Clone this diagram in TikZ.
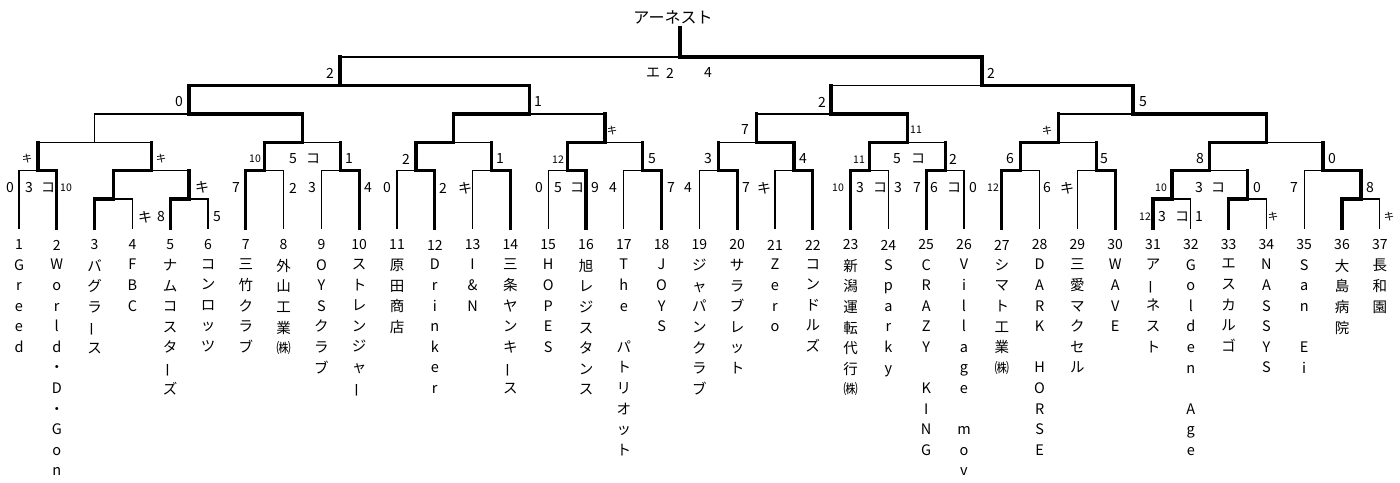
\documentclass[tikz,border=0pt]{standalone}
\usepackage{fontspec}
\usepackage{graphicx}
\newfontfamily\jpfont{Noto Sans CJK JP}
\newcommand{\tbar}{\rotatebox[origin=c]{90}{ー}}
\tikzset{
  won/.style={line width=3.2pt,line cap=rect},
  lost/.style={line width=1.3pt,line cap=rect},
  sc/.style={font=\jpfont\fontsize{14}{14}\selectfont,inner sep=0pt},
  sm/.style={font=\jpfont\fontsize{10.5}{10.5}\selectfont,inner sep=0pt},
  num/.style={font=\jpfont\fontsize{14}{14}\selectfont,inner sep=0pt},
  tm/.style={font=\jpfont\fontsize{14.5}{20.6}\selectfont,inner sep=0pt,
    anchor=north,align=center,execute at begin node={\rule{0pt}{13pt}}}
}
\begin{document}
\begin{tikzpicture}[x=1pt,y=-1pt]
\useasboundingbox (0,0) rectangle (1400,482);
\foreach \i in {1,...,37}
  \coordinate (t\i) at ({19+(\i-1)*37.8},228);
\coordinate (p34) at (113.5,199);
\coordinate (p56) at (189,199);
\coordinate (p3132) at (1172,199);
\coordinate (p3334) at (1247.5,199);
\coordinate (p3637) at (1361,199);
\coordinate (r12) at (37.9,170.7);
\coordinate (r36) at (151.2,170.7);
\coordinate (r78) at (264.7,170.7);
\coordinate (r910) at (340.3,170.7);
\coordinate (r1112) at (415.9,170.7);
\coordinate (r1314) at (491.5,170.7);
\coordinate (r1516) at (567.1,170.7);
\coordinate (r1718) at (642.7,170.7);
\coordinate (r1920) at (718.3,170.7);
\coordinate (r2122) at (793.9,170.7);
\coordinate (r2324) at (869.5,170.7);
\coordinate (r2526) at (945.1,170.7);
\coordinate (r2728) at (1020.7,170.7);
\coordinate (r2930) at (1096.3,170.7);
\coordinate (r3134) at (1209.7,170.7);
\coordinate (r3537) at (1323,170.7);
\coordinate (s16) at (94.5,142.7);
\coordinate (s710) at (302.5,142.7);
\coordinate (s1114) at (453.7,142.7);
\coordinate (s1518) at (604.9,142.7);
\coordinate (s1922) at (756.1,142.7);
\coordinate (s2326) at (907.3,142.7);
\coordinate (s2730) at (1058.5,142.7);
\coordinate (s3137) at (1266.4,142.7);
\coordinate (q110) at (189,114);
\coordinate (q1118) at (529.3,114);
\coordinate (q1926) at (831,114);
\coordinate (q2737) at (1133,114);
\coordinate (h1) at (340,85.7);
\coordinate (h2) at (982,85.7);
\coordinate (f) at (680,57);
\coordinate (top) at (680,28);
\foreach \a/\b in {t3/p34,t5/p56,t31/p3132,t33/p3334,t36/p3637,t2/r12,
  p34/r36,t7/r78,t10/r910,t12/r1112,t14/r1314,t16/r1516,t18/r1718,
  t20/r1920,t22/r2122,t23/r2324,t25/r2526,t27/r2728,t30/r2930,
  p3132/r3134,p3637/r3537,r78/s710,r1112/s1114,r1516/s1518,r2122/s1922,
  r2324/s2326,r2728/s2730,r3134/s3137,s710/q110,s1114/q1118,s2326/q1926,
  s3137/q2737,q110/h1,q1118/h1,q2737/h2,h2/f}
  \draw[won] (\a) |- (\b);
\foreach \a/\b in {t4/p34,t6/p56,t32/p3132,t34/p3334,t37/p3637,t1/r12,
  t8/r78,t9/r910,t11/r1112,t13/r1314,t15/r1516,t17/r1718,t19/r1920,
  t21/r2122,t24/r2324,t26/r2526,t28/r2728,t29/r2930,t35/r3537,s16/q110}
  \draw[lost] (\a) |- (\b);
\foreach \a/\b in {p56/r36,p3334/r3134,r12/s16,r36/s16,r910/s710,
  r1314/s1114,r1718/s1518,r1920/s1922,r2526/s2326,r2930/s2730,r3537/s3137,
  s1518/q1118,s1922/q1926,s2730/q2737,q1926/h2,h1/f}
  {\draw[won] (\a) -- (\a |- \b);
   \draw[lost] (\a |- \b) -- (\b);}
\draw[won] (f) -- (top);
\node[font=\jpfont\fontsize{16}{16}\selectfont,inner sep=0pt] (champ) at (673,17) {アーネスト};
\foreach \x/\y/\lab [count=\j] in {330/73/2,653/73/エ,670/73/2,708/73/4,991/73/2,
  179/102/0,538/102/1,822/102/2,1143/102/5,745/130/7,
  293/159/5,313/159/コ,349/159/1,406/159/2,500/159/1,652/159/5,708/159/3,
  803/159/4,897/159/5,918/159/コ,953/159/2,1010/159/6,1104/159/5,1200/159/8,
  1332/159/0,
  10/188/0,29/188/3,48/188/コ,202/187/キ,236/188/7,293/188/2,312/188/3,
  368/188/4,387/188/0,443/188/2,465/188/キ,539/188/0,558/188/5,577/188/コ,
  595/188/9,613/188/4,671/188/7,688/188/4,746/188/7,764/188/キ,860/188/3,
  880/188/コ,898/188/3,917/188/7,934/188/6,954/188/コ,973/188/0,1047/188/6,
  1067/188/キ,1199/188/3,1218/188/コ,1257/188/0,1294/188/7,1370/188/8,
  145/217/キ,161/217/8,217/217/5,1162/217/3,1182/217/コ,1199/217/1}
  \node[sc] (a\j) at (\x,\y) {\lab};
\foreach \x/\y/\lab [count=\j] in {612/131/キ,916/130/11,1047/131/キ,
  27/159/キ,161/159/キ,255/159/10,558/160/12,859/160/11,
  66/188/10,838/188/10,993/188/12,1161/188/10,
  1145/217/12,1273/217/キ,1389/217/キ}
  \node[sm] (b\j) at (\x,\y) {\lab};
\foreach \nm [count=\i] in {
  {G\\r\\e\\e\\d},
  {W\\o\\r\\l\\d\\・\\D\\・\\G\\o\\n},
  {バ\\グ\\ラ\\\tbar\\ス},
  {F\\B\\C},
  {ナ\\ム\\コ\\ス\\タ\\\tbar\\ズ},
  {コ\\ン\\ロ\\ッ\\ツ},
  {三\\竹\\ク\\ラ\\ブ},
  {外\\山\\工\\業\\㈱},
  {O\\Y\\S\\ク\\ラ\\ブ},
  {ス\\ト\\レ\\ン\\ジ\\ャ\\\tbar},
  {原\\田\\商\\店},
  {D\\r\\i\\n\\k\\e\\r},
  {I\\\&\\N},
  {三\\条\\ヤ\\ン\\キ\\\tbar\\ス},
  {H\\O\\P\\E\\S},
  {旭\\レ\\ジ\\ス\\タ\\ン\\ス},
  {T\\h\\e\\\mbox{}\\パ\\ト\\リ\\オ\\ッ\\ト},
  {J\\O\\Y\\S},
  {ジ\\ャ\\パ\\ン\\ク\\ラ\\ブ},
  {サ\\ラ\\ブ\\レ\\ッ\\ト},
  {Z\\e\\r\\o},
  {コ\\ン\\ド\\ル\\ズ},
  {新\\潟\\運\\転\\代\\行\\㈱},
  {S\\p\\a\\r\\k\\y},
  {C\\R\\A\\Z\\Y\\\mbox{}\\K\\I\\N\\G},
  {V\\i\\l\\l\\a\\g\\e\\\mbox{}\\m\\o\\v},
  {シ\\マ\\ト\\工\\業\\㈱},
  {D\\A\\R\\K\\\mbox{}\\H\\O\\R\\S\\E},
  {三\\愛\\マ\\ク\\セ\\ル},
  {W\\A\\V\\E},
  {ア\\\tbar\\ネ\\ス\\ト},
  {G\\o\\l\\d\\e\\n\\\mbox{}\\A\\g\\e},
  {エ\\ス\\カ\\ル\\ゴ},
  {N\\A\\S\\S\\Y\\S},
  {S\\a\\n\\\mbox{}\\E\\i},
  {大\\島\\病\\院},
  {長\\和\\園}}
  {\node[num] (k\i) at ({19+(\i-1)*37.8},245) {\i};
   \node[tm] (n\i) at ({19+(\i-1)*37.8},259) {\nm};}
\end{tikzpicture}
\end{document}
